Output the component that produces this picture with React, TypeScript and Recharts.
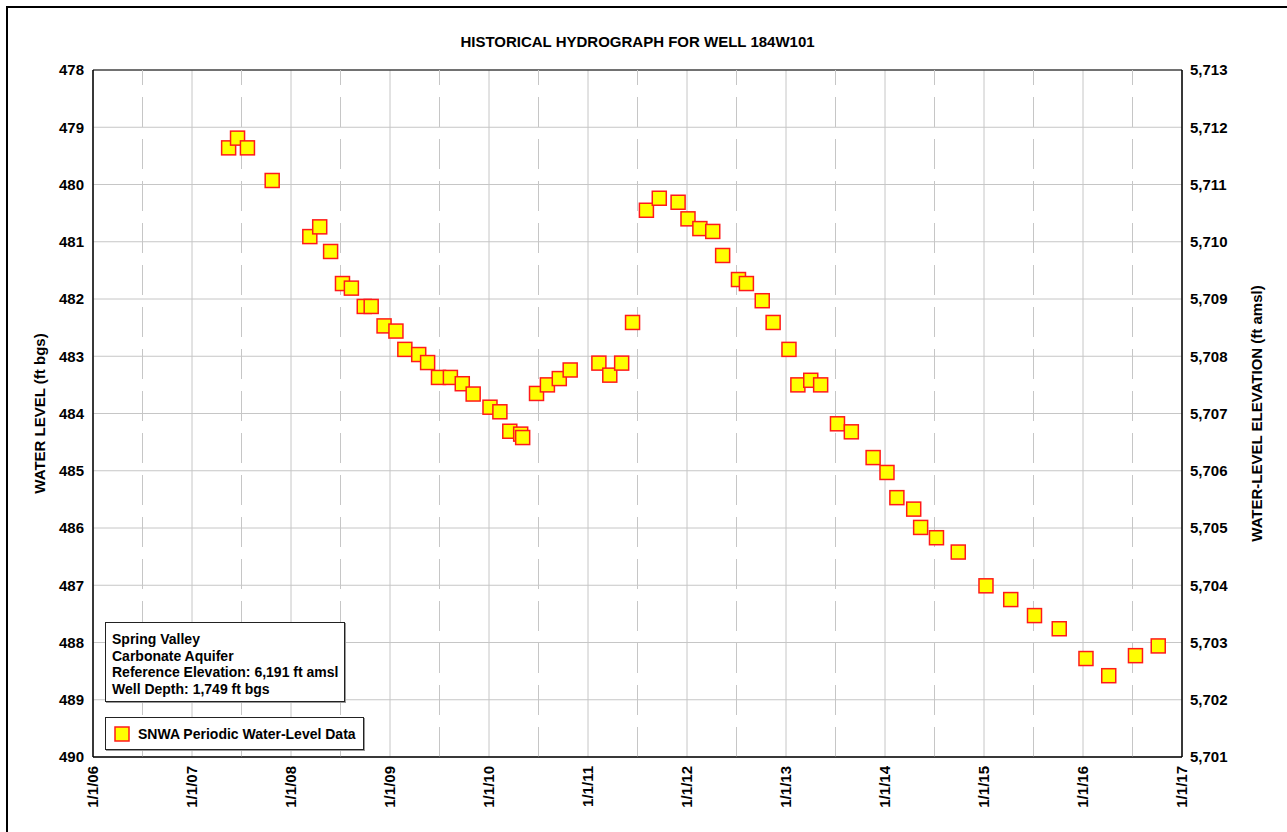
import {
  ScatterChart,
  Scatter,
  XAxis,
  YAxis,
  CartesianGrid,
  ReferenceLine,
  ReferenceArea,
} from "recharts";

// decimal year of each SNWA measurement
const measuredYear = [
  2007.37, 2007.46, 2007.56, 2007.81, 2008.19, 2008.29, 2008.4, 2008.52, 2008.61,
  2008.74, 2008.81, 2008.94, 2009.06, 2009.15, 2009.29, 2009.38, 2009.49, 2009.61,
  2009.73, 2009.84, 2010.01, 2010.11, 2010.21, 2010.32, 2010.34, 2010.48, 2010.59,
  2010.71, 2010.82, 2011.11, 2011.22, 2011.34, 2011.45, 2011.59, 2011.72, 2011.91,
  2012.01, 2012.13, 2012.26, 2012.36, 2012.52, 2012.6, 2012.76, 2012.87, 2013.03,
  2013.12, 2013.25, 2013.35, 2013.52, 2013.66, 2013.88, 2014.02, 2014.12, 2014.29,
  2014.36, 2014.52, 2014.74, 2015.02, 2015.27, 2015.51, 2015.76, 2016.03, 2016.26,
  2016.53, 2016.76,
];

// depth to water, ft below ground surface
const waterLevel = [
  479.36, 479.19, 479.36, 479.93, 480.91, 480.74, 481.17, 481.73, 481.81,
  482.13, 482.13, 482.47, 482.56, 482.88, 482.97, 483.11, 483.37, 483.37,
  483.48, 483.66, 483.89, 483.97, 484.31, 484.36, 484.42, 483.65, 483.5,
  483.39, 483.24, 483.12, 483.33, 483.12, 482.41, 480.45, 480.24, 480.31,
  480.6, 480.77, 480.82, 481.24, 481.66, 481.73, 482.03, 482.41, 482.88,
  483.5, 483.42, 483.5, 484.18, 484.32, 484.77, 485.03, 485.47, 485.67,
  485.99, 486.17, 486.42, 487.01, 487.25, 487.53, 487.76, 488.28, 488.58,
  488.23, 488.06,
];

const yearTicks = [2006, 2007, 2008, 2009, 2010, 2011, 2012, 2013, 2014, 2015, 2016, 2017];
const halfYearLines = [2006.5, 2007.5, 2008.5, 2009.5, 2010.5, 2011.5, 2012.5, 2013.5, 2014.5, 2015.5, 2016.5];
const levelTicks = [478, 479, 480, 481, 482, 483, 484, 485, 486, 487, 488, 489, 490];
const elevationTicks = [5701, 5702, 5703, 5704, 5705, 5706, 5707, 5708, 5709, 5710, 5711, 5712, 5713];
const referenceElevation = 6191;

const infoLines = [
  "Spring Valley",
  "Carbonate Aquifer",
  "Reference Elevation: 6,191 ft amsl",
  "Well Depth: 1,749 ft bgs",
];

const data = measuredYear.map((t, i) => ({
  t,
  level: waterLevel[i],
  elevation: referenceElevation - waterLevel[i],
}));

const FONT = '"Liberation Sans", Arial, sans-serif';
const GRID = "#c6c6c6";

const dateLabel = (y: number) => `1/1/${String(y % 100).padStart(2, "0")}`;

const SquareMarker = (props: any) => {
  const { cx, cy } = props;
  if (cx == null || cy == null) return null;
  return (
    <rect
      x={cx - 7}
      y={cy - 7}
      width={14}
      height={14}
      fill="#ffff00"
      stroke="#ff1a1a"
      strokeWidth={1.5}
    />
  );
};

const NoMarker = () => <g />;

const DateTick = (props: any) => {
  const { x, y, payload } = props;
  return (
    <text
      x={x}
      y={y}
      transform={`rotate(-90, ${x}, ${y})`}
      textAnchor="end"
      dy="0.36em"
      fill="#000"
      fontSize={15}
      fontWeight={700}
      fontFamily={FONT}
    >
      {dateLabel(payload.value)}
    </text>
  );
};

const sideLabel = (text: string, dx: number) => (props: any) => {
  const vb = props.viewBox;
  const cx = vb.x + dx;
  const cy = vb.y + vb.height / 2;
  return (
    <text
      x={cx}
      y={cy}
      transform={`rotate(-90, ${cx}, ${cy})`}
      textAnchor="middle"
      dy="0.36em"
      fill="#000"
      fontSize={15}
      fontWeight={700}
      fontFamily={FONT}
    >
      {text}
    </text>
  );
};

export default function App() {
  return (
    <div
      style={{
        position: "absolute",
        left: 0,
        top: 0,
        width: 1287,
        height: 832,
        overflow: "hidden",
        background: "#fff",
        fontFamily: FONT,
      }}
    >
      <div
        style={{
          position: "absolute",
          left: 6,
          top: 6,
          width: 1400,
          height: 900,
          borderLeft: "2px solid #000",
          borderTop: "2px solid #000",
        }}
      />
      <div
        style={{
          position: "absolute",
          left: 93,
          width: 1089,
          top: 33,
          lineHeight: "18px",
          textAlign: "center",
          fontSize: 15,
          fontWeight: 700,
          color: "#000",
        }}
      >
        HISTORICAL HYDROGRAPH FOR WELL 184W101
      </div>

      <div style={{ position: "absolute", left: 0, top: 0 }}>
        <ScatterChart
          width={1287}
          height={832}
          margin={{ top: 70, right: 0, bottom: 0, left: 0 }}
        >
          <CartesianGrid yAxisId="left" stroke={GRID} strokeWidth={1} />
          {halfYearLines.map((x) => (
            <ReferenceLine
              key={x}
              yAxisId="left"
              x={x}
              stroke={GRID}
              strokeWidth={1}
              strokeDasharray="30 12"
            />
          ))}
          <XAxis
            dataKey="t"
            type="number"
            domain={[2006, 2017]}
            ticks={yearTicks}
            interval={0}
            height={75}
            tickSize={0}
            tickMargin={9}
            tickLine={false}
            axisLine={{ stroke: "#000" }}
            tick={<DateTick />}
          />
          <YAxis
            yAxisId="left"
            dataKey="level"
            type="number"
            reversed
            domain={[478, 490]}
            ticks={levelTicks}
            interval={0}
            width={93}
            tickSize={0}
            tickMargin={9}
            tickLine={false}
            axisLine={{ stroke: "#000" }}
            tick={{ fill: "#000", fontSize: 15, fontWeight: 700, fontFamily: FONT }}
            label={sideLabel("WATER LEVEL (ft bgs)", 40)}
          />
          <YAxis
            yAxisId="right"
            dataKey="elevation"
            orientation="right"
            type="number"
            domain={[5701, 5713]}
            ticks={elevationTicks}
            interval={0}
            width={105}
            tickSize={0}
            tickMargin={8}
            tickLine={false}
            axisLine={{ stroke: "#000" }}
            tickFormatter={(v: number) => v.toLocaleString("en-US")}
            tick={{ fill: "#000", fontSize: 15, fontWeight: 700, fontFamily: FONT }}
            label={sideLabel("WATER-LEVEL ELEVATION (ft amsl)", 75)}
          />
          <ReferenceArea
            yAxisId="left"
            x1={2006}
            x2={2017}
            y1={478}
            y2={490}
            fill="none"
            stroke="#000"
            strokeWidth={1}
          />
          {/* elevation twin of the data, only to drive the right axis */}
          <Scatter
            yAxisId="right"
            dataKey="elevation"
            data={data}
            shape={<NoMarker />}
            legendType="none"
            isAnimationActive={false}
          />
          <Scatter
            yAxisId="left"
            dataKey="level"
            name="SNWA Periodic Water-Level Data"
            data={data}
            shape={<SquareMarker />}
            isAnimationActive={false}
          />
        </ScatterChart>
      </div>

      <div
        style={{
          position: "absolute",
          left: 105,
          top: 622,
          width: 240,
          height: 80,
          boxSizing: "border-box",
          border: "1px solid #222",
          boxShadow: "1px 1px 0 #999",
          background: "#fff",
          padding: "8px 0 0 6px",
          fontSize: 14,
          fontWeight: 700,
          lineHeight: "16.5px",
          color: "#000",
        }}
      >
        {infoLines.map((l) => (
          <div key={l}>{l}</div>
        ))}
      </div>

      <div
        style={{
          position: "absolute",
          left: 105,
          top: 717,
          width: 259,
          height: 33,
          boxSizing: "border-box",
          border: "1px solid #222",
          boxShadow: "1px 1px 0 #999",
          background: "#fff",
          fontSize: 14,
          fontWeight: 700,
          color: "#000",
        }}
      >
        <svg
          width={16}
          height={16}
          style={{ position: "absolute", left: 8, top: 8 }}
        >
          <rect x={1} y={1} width={14} height={14} fill="#ffff00" stroke="#ff1a1a" strokeWidth={1.5} />
        </svg>
        <div style={{ position: "absolute", left: 32, top: 7, lineHeight: "18px", whiteSpace: "nowrap" }}>
          SNWA Periodic Water-Level Data
        </div>
      </div>
    </div>
  );
}
